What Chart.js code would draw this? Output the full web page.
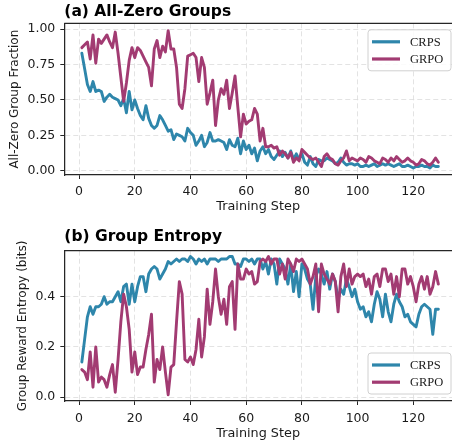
<!DOCTYPE html>
<html>
<head>
<meta charset="utf-8">
<script src="https://cdn.jsdelivr.net/npm/chart.js@4.4.1/dist/chart.umd.min.js"></script>
<style>
  html, body { margin: 0; padding: 0; background: #fff; overflow: hidden; }
  #wrap { position: relative; width: 452px; height: 446px; }
  canvas { position: absolute; left: 0; }
  #zeroChart { top: 0; }
  #entChart { top: 222px; }
</style>
</head>
<body>
<div id="wrap">
  <canvas id="zeroChart" width="452" height="222"></canvas>
  <canvas id="entChart" width="452" height="224"></canvas>
</div>
<script>
// training steps (x)
const steps = [
  1, 2, 3, 4, 5, 6, 7, 8, 9, 10, 11, 12, 13, 14, 15, 16, 17, 18, 19, 20,
  21, 22, 23, 24, 25, 26, 27, 28, 29, 30, 31, 32, 33, 34, 35, 36, 37, 38, 39, 40,
  41, 42, 43, 44, 45, 46, 47, 48, 49, 50, 51, 52, 53, 54, 55, 56, 57, 58, 59, 60,
  61, 62, 63, 64, 65, 66, 67, 68, 69, 70, 71, 72, 73, 74, 75, 76, 77, 78, 79, 80,
  81, 82, 83, 84, 85, 86, 87, 88, 89, 90, 91, 92, 93, 94, 95, 96, 97, 98, 99, 100,
  101, 102, 103, 104, 105, 106, 107, 108, 109, 110, 111, 112, 113, 114, 115, 116, 117, 118, 119, 120,
  121, 122, 123, 124, 125, 126, 127, 128, 129
];

// (a) all-zero group fraction
const crpsZero = [
  0.83, 0.72, 0.61, 0.56, 0.63, 0.56, 0.57, 0.56, 0.49, 0.52,
  0.54, 0.52, 0.51, 0.50, 0.46, 0.51, 0.41, 0.56, 0.43, 0.50,
  0.44, 0.39, 0.36, 0.46, 0.37, 0.32, 0.30, 0.32, 0.39, 0.36,
  0.32, 0.28, 0.29, 0.22, 0.26, 0.25, 0.24, 0.21, 0.30, 0.27,
  0.25, 0.18, 0.21, 0.25, 0.17, 0.20, 0.27, 0.21, 0.21, 0.22,
  0.21, 0.20, 0.15, 0.22, 0.18, 0.17, 0.23, 0.12, 0.21, 0.15,
  0.18, 0.12, 0.16, 0.07, 0.14, 0.17, 0.12, 0.15, 0.10, 0.08,
  0.11, 0.14, 0.10, 0.13, 0.09, 0.14, 0.08, 0.12, 0.08, 0.12,
  0.06, 0.04, 0.10, 0.05, 0.03, 0.08, 0.07, 0.07, 0.09, 0.08,
  0.07, 0.05, 0.06, 0.09, 0.06, 0.04, 0.05, 0.05, 0.04, 0.05,
  0.03, 0.03, 0.04, 0.03, 0.04, 0.05, 0.03, 0.04, 0.05, 0.04,
  0.05, 0.04, 0.03, 0.04, 0.05, 0.03, 0.03, 0.04, 0.03, 0.02,
  0.03, 0.03, 0.04, 0.03, 0.03, 0.02, 0.04, 0.03, 0.03
];
const grpoZero = [
  0.87, 0.89, 0.91, 0.79, 0.96, 0.76, 0.93, 0.90, 0.93, 0.96,
  0.91, 0.87, 0.98, 0.83, 0.66, 0.49, 0.62, 0.78, 0.87, 0.80,
  0.87, 0.85, 0.81, 0.77, 0.73, 0.60, 0.86, 0.92, 0.80, 0.88,
  0.84, 0.99, 0.86, 0.86, 0.73, 0.47, 0.44, 0.58, 0.81, 0.82,
  0.83, 0.80, 0.63, 0.80, 0.73, 0.47, 0.55, 0.64, 0.32, 0.50,
  0.58, 0.54, 0.64, 0.44, 0.55, 0.67, 0.45, 0.24, 0.40, 0.33,
  0.35, 0.36, 0.44, 0.40, 0.21, 0.30, 0.17, 0.17, 0.18, 0.16,
  0.17, 0.11, 0.14, 0.12, 0.09, 0.13, 0.06, 0.09, 0.07, 0.15,
  0.13, 0.11, 0.09, 0.08, 0.09, 0.06, 0.03, 0.10, 0.12, 0.09,
  0.08, 0.05, 0.04, 0.07, 0.09, 0.14, 0.07, 0.09, 0.08, 0.07,
  0.09, 0.08, 0.06, 0.10, 0.09, 0.07, 0.06, 0.05, 0.09, 0.08,
  0.06, 0.09, 0.07, 0.10, 0.08, 0.06, 0.07, 0.09, 0.07, 0.06,
  0.04, 0.05, 0.08, 0.07, 0.05, 0.04, 0.06, 0.09, 0.06
];

// (b) group reward entropy (bits)
const crpsEnt = [
  0.14, 0.23, 0.32, 0.36, 0.33, 0.36, 0.36, 0.37, 0.40, 0.37,
  0.38, 0.38, 0.40, 0.42, 0.38, 0.44, 0.45, 0.37, 0.45, 0.38,
  0.44, 0.48, 0.48, 0.42, 0.49, 0.51, 0.52, 0.51, 0.47, 0.49,
  0.51, 0.54, 0.53, 0.54, 0.55, 0.54, 0.55, 0.55, 0.54, 0.56,
  0.55, 0.53, 0.55, 0.54, 0.55, 0.53, 0.55, 0.55, 0.55, 0.54,
  0.55, 0.55, 0.55, 0.56, 0.56, 0.53, 0.53, 0.52, 0.55, 0.55,
  0.54, 0.55, 0.53, 0.55, 0.55, 0.51, 0.54, 0.49, 0.55, 0.53,
  0.45, 0.55, 0.53, 0.51, 0.45, 0.53, 0.42, 0.50, 0.40, 0.53,
  0.51, 0.47, 0.45, 0.35, 0.48, 0.51, 0.49, 0.45, 0.50, 0.43,
  0.49, 0.46, 0.39, 0.43, 0.41, 0.47, 0.44, 0.40, 0.43, 0.38,
  0.35, 0.36, 0.32, 0.34, 0.30, 0.37, 0.42, 0.39, 0.32, 0.41,
  0.34, 0.30, 0.37, 0.41, 0.38, 0.36, 0.32, 0.33, 0.30, 0.29,
  0.28, 0.33, 0.36, 0.37, 0.36, 0.35, 0.25, 0.35, 0.35
];
const grpoEnt = [
  0.11, 0.10, 0.07, 0.18, 0.04, 0.20, 0.06, 0.08, 0.07, 0.04,
  0.09, 0.13, 0.02, 0.15, 0.30, 0.41, 0.36, 0.27, 0.10, 0.18,
  0.09, 0.12, 0.12, 0.19, 0.25, 0.33, 0.06, 0.15, 0.11, 0.20,
  0.10, 0.01, 0.12, 0.13, 0.30, 0.46, 0.41, 0.15, 0.14, 0.16,
  0.13, 0.19, 0.31, 0.16, 0.24, 0.43, 0.29, 0.38, 0.51, 0.40,
  0.33, 0.39, 0.29, 0.44, 0.46, 0.27, 0.53, 0.47, 0.47, 0.51,
  0.49, 0.50, 0.45, 0.46, 0.54, 0.55, 0.54, 0.56, 0.53, 0.55,
  0.55, 0.49, 0.53, 0.47, 0.55, 0.53, 0.50, 0.55, 0.54, 0.55,
  0.53, 0.51, 0.45, 0.48, 0.53, 0.34, 0.53, 0.49, 0.47, 0.45,
  0.49, 0.46, 0.34, 0.48, 0.53, 0.44, 0.51, 0.45, 0.48, 0.49,
  0.48, 0.49, 0.44, 0.47, 0.41, 0.48, 0.49, 0.44, 0.51, 0.51,
  0.46, 0.49, 0.41, 0.48, 0.40, 0.51, 0.51, 0.45, 0.48, 0.44,
  0.38, 0.45, 0.48, 0.43, 0.48, 0.41, 0.44, 0.50, 0.45
];

const xTicks = [0, 20, 40, 60, 80, 100, 120];
const zeroTicks = [0, 0.25, 0.5, 0.75, 1.0];
const entTicks = [0, 0.2, 0.4];

const CRPS_COLOR = '#2E86AB';
const GRPO_COLOR = '#A23B72';

Chart.defaults.font.family = '"DejaVu Sans", sans-serif';
Chart.defaults.color = '#1a1a1a';

// title, top spine and matplotlib-style legend box
const panelDecor = {
  id: 'panelDecor',
  afterDraw(chart, args, opts) {
    const { ctx, chartArea } = chart;
    ctx.save();

    ctx.strokeStyle = '#262626';
    ctx.lineWidth = 1.25;
    ctx.beginPath();
    ctx.moveTo(chartArea.left, chartArea.top);
    ctx.lineTo(chartArea.right, chartArea.top);
    ctx.stroke();

    ctx.fillStyle = '#000';
    ctx.font = 'bold 15.5px "DejaVu Sans"';
    ctx.textAlign = 'left';
    ctx.textBaseline = 'middle';
    ctx.fillText(opts.title, chartArea.left, opts.titleY);

    // legend
    const boxW = 83, boxH = 41;
    const bx = chartArea.right - boxW - 1;
    const by = opts.legendAt === 'top' ? chartArea.top + 6.5 : chartArea.bottom - boxH - 7;
    ctx.beginPath();
    ctx.roundRect(bx, by, boxW, boxH, 3);
    ctx.fillStyle = 'rgba(255,255,255,0.85)';
    ctx.fill();
    ctx.strokeStyle = '#d0d0d0';
    ctx.lineWidth = 1;
    ctx.stroke();

    ctx.font = '12.5px "Liberation Serif", "Times New Roman", serif';
    chart.data.datasets.forEach((ds, i) => {
      const ly = by + 12 + i * 17.2;
      ctx.strokeStyle = ds.borderColor;
      ctx.lineWidth = 3.2;
      ctx.beginPath();
      ctx.moveTo(bx + 4, ly);
      ctx.lineTo(bx + 32, ly);
      ctx.stroke();
      ctx.fillStyle = '#1a1a1a';
      ctx.fillText(ds.label, bx + 42, ly + 0.5);
    });
    ctx.restore();
  }
};

function series(label, ys, color, order) {
  return {
    label: label,
    data: steps.map((s, i) => ({ x: s, y: ys[i] })),
    borderColor: color,
    backgroundColor: color,
    borderWidth: 2.9,
    borderJoinStyle: 'round',
    borderCapStyle: 'round',
    pointRadius: 0,
    tension: 0,
    fill: false,
    order: order
  };
}

function makeChart(id, cfg) {
  const ctx = document.getElementById(id).getContext('2d');
  return new Chart(ctx, {
    type: 'line',
    data: {
      datasets: [
        series('CRPS', cfg.crps, CRPS_COLOR, 2),
        series('GRPO', cfg.grpo, GRPO_COLOR, 1)
      ]
    },
    plugins: [panelDecor],
    options: {
      responsive: false,
      animation: false,
      layout: { padding: { left: 0, right: 0, top: cfg.padTop, bottom: 0 } },
      plugins: {
        legend: { display: false },
        tooltip: { enabled: false },
        panelDecor: { title: cfg.title, titleY: cfg.titleY, legendAt: cfg.legendAt }
      },
      scales: {
        x: {
          type: 'linear',
          min: -5.3,
          max: 133.9,
          afterBuildTicks: s => { s.ticks = xTicks.map(v => ({ value: v })); },
          afterFit: s => { s.height = cfg.xAxisH; },
          ticks: {
            autoSkip: false, maxRotation: 0, padding: cfg.xTickPad,
            font: { size: 12.5 },
            callback: v => String(v)
          },
          grid: { color: '#dcdcdc', lineWidth: 0.8, tickColor: '#262626', tickWidth: 1, tickLength: 4 },
          border: { color: '#262626', width: 1.25, dash: [5, 3] },
          title: { display: true, text: 'Training Step', font: { size: 12.8 }, padding: { top: 0, bottom: cfg.xTitlePad } }
        },
        y: {
          type: 'linear',
          min: cfg.yMin,
          max: cfg.yMax,
          afterBuildTicks: s => { s.ticks = cfg.yTicks.map(v => ({ value: v })); },
          afterFit: s => { s.width = 64.3; },
          ticks: {
            autoSkip: false, padding: 5,
            font: { size: 12.5 },
            callback: v => v.toFixed(cfg.decimals)
          },
          grid: { color: '#dcdcdc', lineWidth: 0.8, tickColor: '#262626', tickWidth: 1, tickLength: 4 },
          border: { color: '#262626', width: 1.25, dash: [5, 3] },
          title: { display: true, text: cfg.yTitle, font: { size: 12 }, padding: { top: cfg.yTitlePad, bottom: 0 } }
        }
      }
    }
  });
}

makeChart('zeroChart', {
  crps: crpsZero, grpo: grpoZero,
  title: '(a) All-Zero Groups', titleY: 12,
  yTitle: 'All-Zero Group Fraction', yTicks: zeroTicks, decimals: 2,
  yMin: -0.03, yMax: 1.042,
  padTop: 23.3, xAxisH: 47, xTickPad: 5.5, xTitlePad: 7.3, yTitlePad: 7.8,
  legendAt: 'top'
});

makeChart('entChart', {
  crps: crpsEnt, grpo: grpoEnt,
  title: '(b) Group Entropy', titleY: 15.3,
  yTitle: 'Group Reward Entropy (bits)', yTicks: entTicks, decimals: 1,
  yMin: -0.015, yMax: 0.583,
  padTop: 28.7, xAxisH: 45, xTickPad: 6.5, xTitlePad: 4.3, yTitlePad: 15.5,
  legendAt: 'bottom'
});
</script>
</body>
</html>
